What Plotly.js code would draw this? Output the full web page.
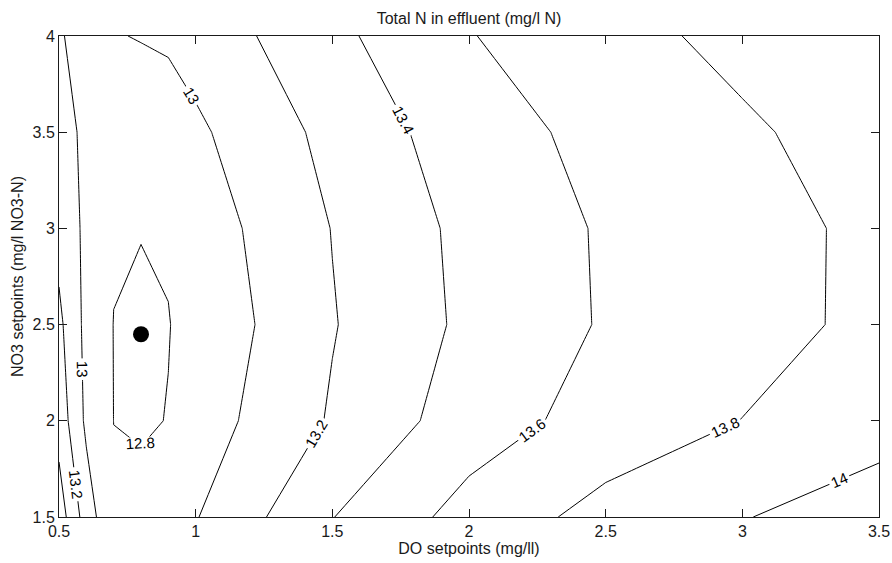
<!DOCTYPE html>
<html>
<head>
<meta charset="utf-8">
<script src="https://cdn.plot.ly/plotly-3.0.1.min.js"></script>
<style>html,body{margin:0;padding:0;background:#fff;}#chart{width:892px;height:563px;}</style>
</head>
<body>
<div id="chart"></div>
<script>
// DO setpoints (mg/l) – grid columns
const doSetpoints = [0.5, 0.6, 0.7, 0.8, 0.9, 1.0, 1.5, 2.0, 2.5, 3.0, 3.5];
// NO3 setpoints (mg/l NO3-N) – grid rows
const no3Setpoints = [1.5, 2.0, 2.5, 3.0, 3.5, 4.0];
// Total N in effluent (mg/l N), one row per NO3 setpoint
const totalN_15 = [13.507, 13.104, 12.823, 12.86, 12.92, 12.99, 13.395, 13.674, 13.867, 13.99, 14.115];
const totalN_20 = [13.32, 12.961, 12.799, 12.778, 12.805, 12.9, 13.22, 13.50, 13.68, 13.803, 13.91];
const totalN_25 = [13.245, 12.946, 12.797, 12.75, 12.795, 12.855, 13.189, 13.441, 13.618, 13.72, 13.852];
const totalN_30 = [13.13, 12.961, 12.816, 12.81, 12.816, 12.894, 13.205, 13.452, 13.622, 13.72, 13.85];
const totalN_35 = [13.07, 12.964, 12.87, 12.88, 12.92, 12.966, 13.257, 13.509, 13.661, 13.78, 13.863];
const totalN_40 = [13.02, 12.92, 12.99, 13.009, 13.023, 13.076, 13.354, 13.59, 13.753, 13.837, 13.96];
// Optimum marker
const optimumDO = [0.8];
const optimumNO3 = [2.45];
// Contour levels
const levelStart = 12.8, levelEnd = 14.0, levelStep = 0.2;
const xTicks = [0.5, 1, 1.5, 2, 2.5, 3, 3.5];
const yTicks = [1.5, 2, 2.5, 3, 3.5, 4];

const fontFam = '"Liberation Sans", Arial, Helvetica, sans-serif';
const ink = '#1a1a1a';

const contour = {
  type: 'contour',
  x: doSetpoints,
  y: no3Setpoints,
  z: [totalN_15, totalN_20, totalN_25, totalN_30, totalN_35, totalN_40],
  autocontour: false,
  contours: {
    start: levelStart, end: levelEnd, size: levelStep,
    coloring: 'none', showlabels: true,
    labelfont: {family: fontFam, size: 15, color: '#000'},
    labelformat: '.3~g'
  },
  line: {color: '#000', width: 1, smoothing: 0},
  showscale: false,
  hoverinfo: 'skip'
};

const optimum = {
  type: 'scatter', mode: 'markers',
  x: optimumDO, y: optimumNO3,
  marker: {size: 16, color: '#000'},
  hoverinfo: 'skip'
};

const axisCommon = {
  showgrid: false, zeroline: false,
  showline: true, linecolor: ink, linewidth: 1,
  mirror: 'ticks', ticks: 'inside', ticklen: 8, tickwidth: 1, tickcolor: ink,
  tickfont: {family: fontFam, size: 16, color: ink}
};

const layout = {
  width: 892, height: 563,
  margin: {l: 59, r: 13, t: 36, b: 46, pad: 0},
  paper_bgcolor: '#fff', plot_bgcolor: '#fff',
  showlegend: false,
  title: {text: 'Total N in effluent (mg/l N)', font: {family: fontFam, size: 16, color: ink},
          x: 0.5, xref: 'paper', y: 1 - 18/563, yref: 'container', yanchor: 'middle'},
  xaxis: Object.assign({}, axisCommon, {
    range: [0.5, 3.5], tickmode: 'array', tickvals: xTicks,
    title: {text: 'DO setpoints (mg/ll)', font: {family: fontFam, size: 16, color: ink}, standoff: 2}
  }),
  yaxis: Object.assign({}, axisCommon, {
    range: [1.5, 4], tickmode: 'array', tickvals: yTicks,
    title: {text: 'NO3 setpoints (mg/l NO3-N)', font: {family: fontFam, size: 16, color: ink}, standoff: 4}
  })
};

Plotly.newPlot('chart', [contour, optimum], layout, {displayModeBar: false, staticPlot: true});
</script>
</body>
</html>
